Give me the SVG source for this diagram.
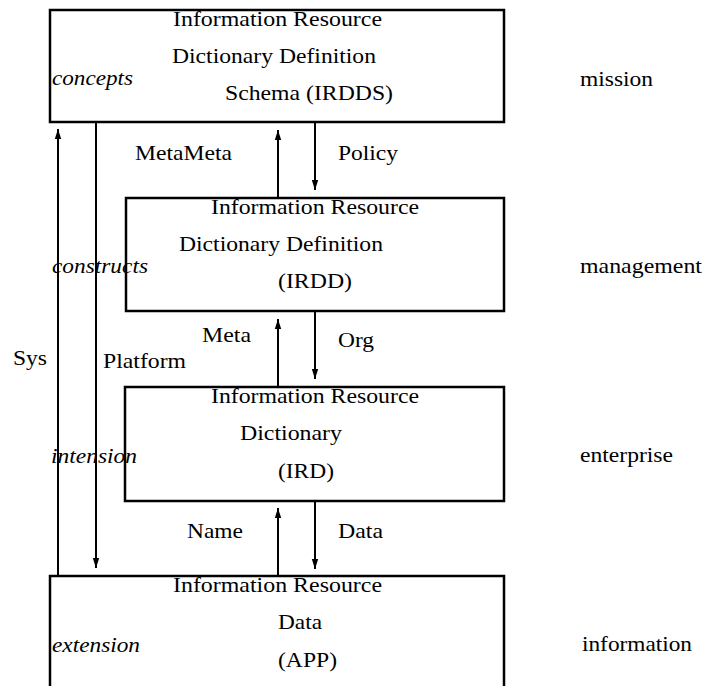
<svg xmlns="http://www.w3.org/2000/svg" width="704" height="686" viewBox="0 0 704 686">
<defs>
<style>
text{font-family:"Liberation Serif","Times New Roman",serif;font-size:22px;fill:#000}
.i{font-style:italic}
.box{fill:none;stroke:#000;stroke-width:2.5}
.c line{stroke:#000;stroke-width:2}
</style>
<marker id="ah" markerUnits="userSpaceOnUse" markerWidth="10" markerHeight="8" refX="10" refY="4" orient="auto">
<path d="M0,0.8 L10,4 L0,7.2 z" fill="#000"/>
</marker>
</defs>
<rect width="704" height="686" fill="#fff"/>
<g id="irdds">
<rect class="box" x="50" y="10" width="454" height="112"/>
<text x="173" y="26" textLength="209" lengthAdjust="spacingAndGlyphs">Information Resource</text>
<text x="172" y="63" textLength="204" lengthAdjust="spacingAndGlyphs">Dictionary Definition</text>
<text x="225" y="100" textLength="168" lengthAdjust="spacingAndGlyphs">Schema (IRDDS)</text>
<text class="i" x="52" y="85" textLength="81" lengthAdjust="spacingAndGlyphs">concepts</text>
</g>
<g id="irdd">
<rect class="box" x="126" y="198" width="378" height="113"/>
<text x="211" y="214" textLength="208" lengthAdjust="spacingAndGlyphs">Information Resource</text>
<text x="179" y="251" textLength="204" lengthAdjust="spacingAndGlyphs">Dictionary Definition</text>
<text x="278" y="288" textLength="74" lengthAdjust="spacingAndGlyphs">(IRDD)</text>
<text class="i" x="52" y="273" textLength="96" lengthAdjust="spacingAndGlyphs">constructs</text>
</g>
<g id="ird">
<rect class="box" x="125" y="387" width="379" height="114"/>
<text x="211" y="403" textLength="208" lengthAdjust="spacingAndGlyphs">Information Resource</text>
<text x="240" y="440" textLength="102" lengthAdjust="spacingAndGlyphs">Dictionary</text>
<text x="278" y="478" textLength="56" lengthAdjust="spacingAndGlyphs">(IRD)</text>
<text class="i" x="51" y="463" textLength="86" lengthAdjust="spacingAndGlyphs">intension</text>
</g>
<g id="app">
<rect class="box" x="50" y="576" width="454" height="130"/>
<text x="173" y="592" textLength="209" lengthAdjust="spacingAndGlyphs">Information Resource</text>
<text x="278" y="629" textLength="44" lengthAdjust="spacingAndGlyphs">Data</text>
<text x="278" y="667" textLength="59" lengthAdjust="spacingAndGlyphs">(APP)</text>
<text class="i" x="52" y="652" textLength="88" lengthAdjust="spacingAndGlyphs">extension</text>
</g>
<g id="levels">
<text x="580" y="86" textLength="73" lengthAdjust="spacingAndGlyphs">mission</text>
<text x="580" y="273" textLength="122" lengthAdjust="spacingAndGlyphs">management</text>
<text x="580" y="462" textLength="93" lengthAdjust="spacingAndGlyphs">enterprise</text>
<text x="582" y="651" textLength="110" lengthAdjust="spacingAndGlyphs">information</text>
</g>
<g id="connectors" class="c">
<line x1="58" y1="576" x2="58" y2="129" marker-end="url(#ah)"/>
<line x1="96" y1="122" x2="96" y2="568" marker-end="url(#ah)"/>
<line x1="278" y1="198" x2="278" y2="130" marker-end="url(#ah)"/>
<line x1="315" y1="122" x2="315" y2="190" marker-end="url(#ah)"/>
<line x1="278" y1="387" x2="278" y2="319" marker-end="url(#ah)"/>
<line x1="315" y1="311" x2="315" y2="379" marker-end="url(#ah)"/>
<line x1="278" y1="576" x2="278" y2="508" marker-end="url(#ah)"/>
<line x1="315" y1="501" x2="315" y2="569" marker-end="url(#ah)"/>
<text x="13" y="365" textLength="34" lengthAdjust="spacingAndGlyphs">Sys</text>
<text x="103" y="368" textLength="83" lengthAdjust="spacingAndGlyphs">Platform</text>
<text x="135" y="160" textLength="97" lengthAdjust="spacingAndGlyphs">MetaMeta</text>
<text x="338" y="160" textLength="60" lengthAdjust="spacingAndGlyphs">Policy</text>
<text x="202" y="342" textLength="49" lengthAdjust="spacingAndGlyphs">Meta</text>
<text x="338" y="347" textLength="36" lengthAdjust="spacingAndGlyphs">Org</text>
<text x="187" y="538" textLength="56" lengthAdjust="spacingAndGlyphs">Name</text>
<text x="338" y="538" textLength="45" lengthAdjust="spacingAndGlyphs">Data</text>
</g>
</svg>
